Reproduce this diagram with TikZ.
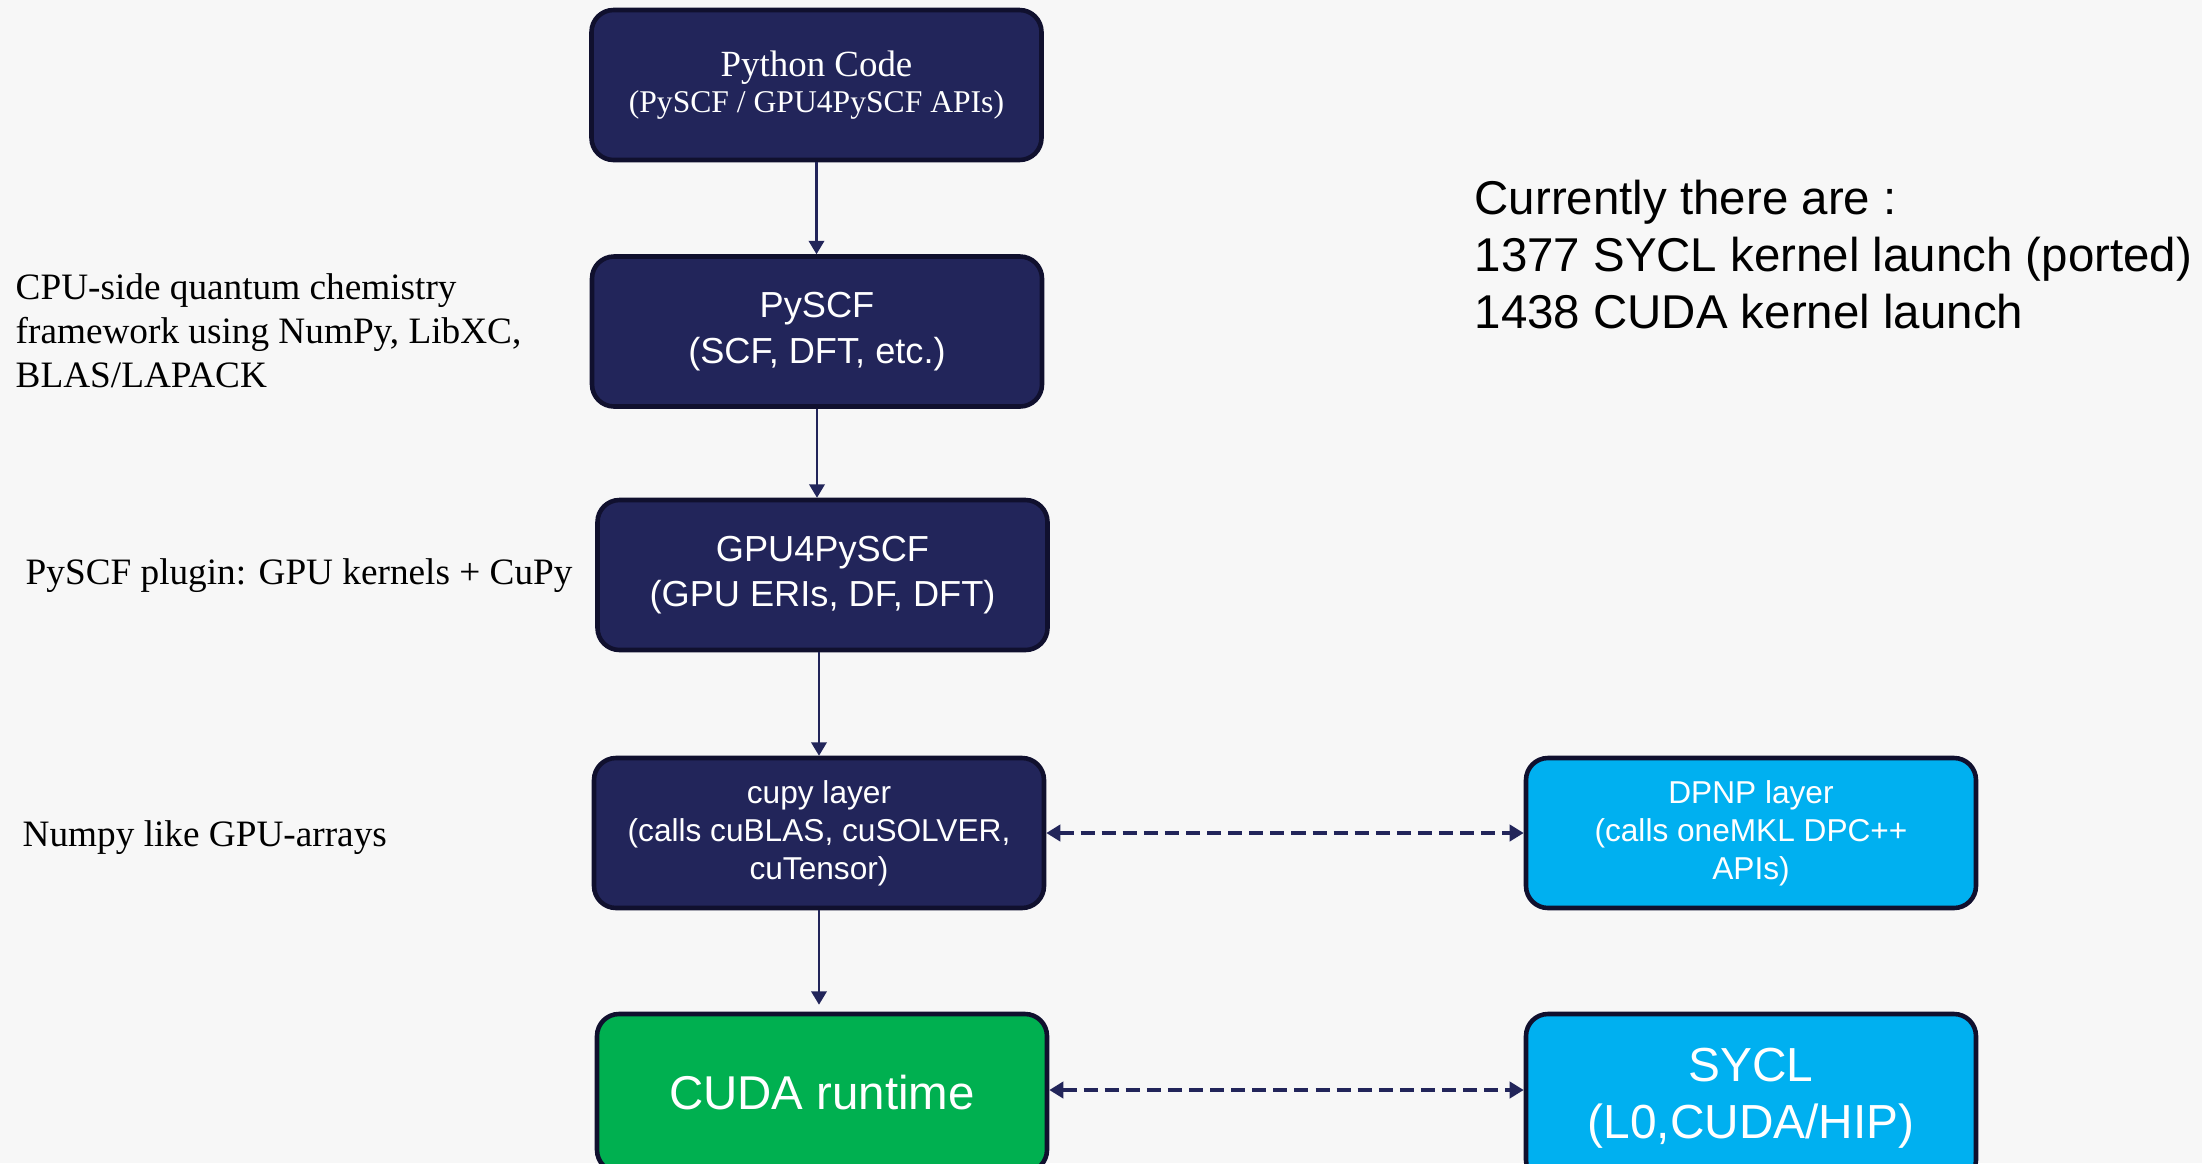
\documentclass[tikz,border=0pt]{standalone}
\usepackage{fontspec}
\setmainfont{Liberation Serif}
\setsansfont{Liberation Sans}
\usetikzlibrary{arrows.meta}

\definecolor{navy}{HTML}{22255A}
\definecolor{navyline}{HTML}{10102E}
\definecolor{cyanfill}{HTML}{00B0F0}
\definecolor{greenfill}{HTML}{00B050}
\definecolor{paper}{HTML}{F7F7F7}

\tikzset{
  layer/.style={draw=navyline, line width=1.3pt, rounded corners=0.22cm,
    text=white, align=center, inner sep=0pt,
    minimum width=4.5cm, minimum height=1.5cm},
  navylayer/.style={layer, fill=navy},
  cyanlayer/.style={layer, fill=cyanfill},
  greenlayer/.style={layer, fill=greenfill},
  flow/.style={draw=navy, line width=0.6pt,
    -{Triangle[width=4.4pt,length=3.8pt]}},
  link/.style={draw=navy, line width=1pt, dash pattern=on 4pt off 2pt,
    {Triangle[width=4.6pt,length=4pt]}-{Triangle[width=4.6pt,length=4pt]}},
  note/.style={anchor=west, align=left, inner sep=0pt,
    font=\fontsize{10.6}{12.5}\selectfont}
}

\begin{document}
\begin{tikzpicture}
  \fill[paper] (0,0) rectangle (22.02,-11.63);
  \useasboundingbox (0,0) rectangle (22.02,-11.63);
  \clip (0,0) rectangle (22.02,-11.63);

  % left column: the stack
  \node[navylayer, font=\fontsize{9}{10.2}\selectfont] (py) at (8.165,-0.85)
    {{\fontsize{10.5}{10.2}\selectfont Python Code}\\(PySCF / GPU4PySCF APIs)};
  \node[navylayer, font=\sffamily\fontsize{10.3}{13}\selectfont] (pyscf) at (8.17,-3.315)
    {PySCF\\(SCF, DFT, etc.)};
  \node[navylayer, font=\sffamily\fontsize{10.3}{13}\selectfont] (gpu) at (8.225,-5.75)
    {GPU4PySCF\\(GPU ERIs, DF, DFT)};
  \node[navylayer, font=\sffamily\fontsize{9}{10.8}\selectfont] (cupy) at (8.19,-8.33)
    {cupy layer\\(calls cuBLAS, cuSOLVER,\\cuTensor)};
  \node[greenlayer, minimum height=1.58cm, font=\sffamily\fontsize{13.5}{16.4}\selectfont]
    (cuda) at (8.22,-10.93) {CUDA runtime};

  % right column: the SYCL side
  \node[cyanlayer, font=\sffamily\fontsize{9}{10.8}\selectfont] (dpnp) at (17.51,-8.33)
    {DPNP layer\\(calls oneMKL DPC++\\APIs)};
  \node[cyanlayer, minimum height=1.68cm, font=\sffamily\fontsize{13.6}{16.2}\selectfont]
    (sycl) at (17.51,-10.98) {SYCL\\(L0,CUDA/HIP)};

  \draw[flow] (py.south) -- (py.south |- pyscf.north);
  \draw[flow] (pyscf.south) -- (pyscf.south |- gpu.north);
  \draw[flow] (cupy.north |- gpu.south) -- (cupy.north);
  \draw[flow, shorten >=2pt] (cupy.south) -- (cupy.south |- cuda.north);

  \draw[link] (cupy.east) -- (dpnp.west);
  \draw[link] ([yshift=0.03cm]cuda.east) -- ([yshift=0.03cm]cuda.east -| sycl.west);

  % side notes
  \node[note] (cpunote) at (0.15,-3.31)
    {CPU-side quantum chemistry\\framework using NumPy, LibXC,\\BLAS/LAPACK};
  \node[note] (gpunote) at (0.25,-5.76) {PySCF plugin: GPU kernels + CuPy};
  \node[note] (arrnote) at (0.22,-8.38) {Numpy like GPU-arrays};

  \node[note, font=\sffamily\fontsize{13.5}{16.2}\selectfont] (count) at (14.74,-2.545)
    {Currently there are :\\1377 SYCL kernel launch (ported)\\1438 CUDA kernel launch};
\end{tikzpicture}
\end{document}
